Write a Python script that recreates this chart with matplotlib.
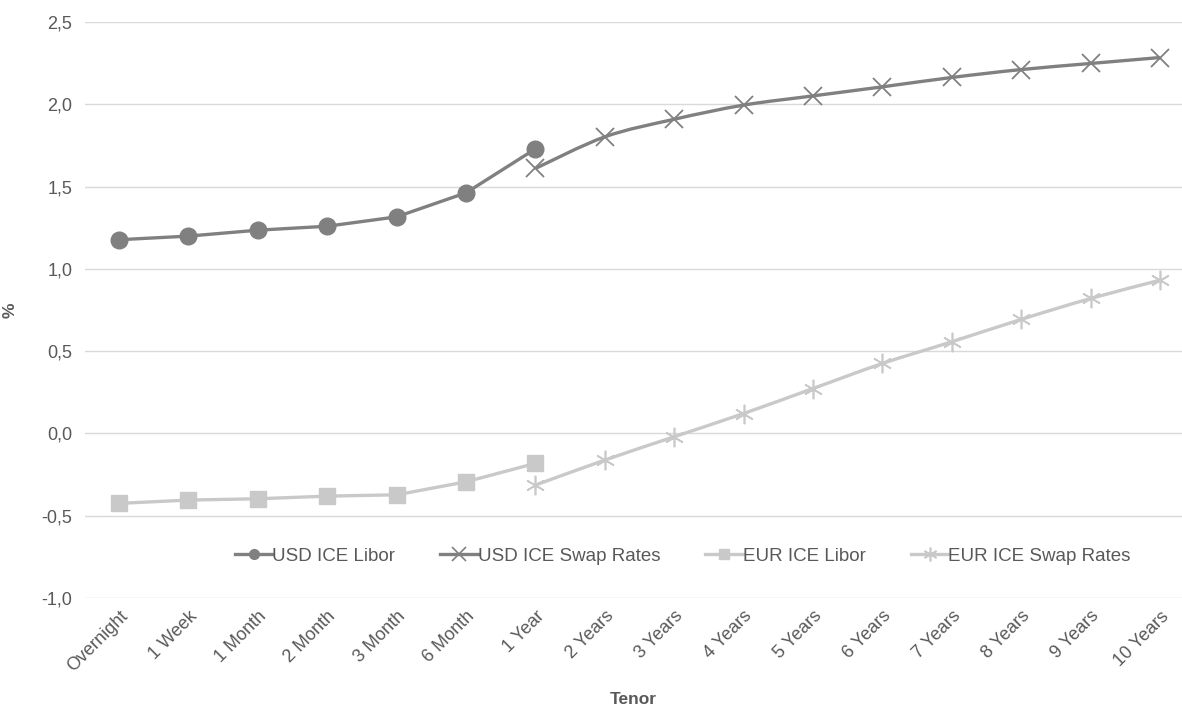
import numpy as np
import matplotlib
matplotlib.use("Agg")
import matplotlib.pyplot as plt
from matplotlib.path import Path
from matplotlib.patches import PathPatch
from matplotlib.ticker import FuncFormatter, MultipleLocator
from matplotlib.lines import Line2D

tenors = ["Overnight", "1 Week", "1 Month", "2 Month", "3 Month", "6 Month",
          "1 Year", "2 Years", "3 Years", "4 Years", "5 Years", "6 Years",
          "7 Years", "8 Years", "9 Years", "10 Years"]

usd_libor = [1.177, 1.199, 1.235, 1.259, 1.316, 1.462, 1.729]
usd_swap = [1.61, 1.802, 1.909, 1.995, 2.051, 2.106, 2.163, 2.211, 2.248, 2.284]
eur_libor = [-0.425, -0.405, -0.397, -0.381, -0.373, -0.294, -0.182]
eur_swap = [-0.314, -0.162, -0.02, 0.121, 0.273, 0.425, 0.557, 0.693, 0.82, 0.931]

libor_idx = np.arange(0, 7)
swap_idx = np.arange(6, 16)

usd_color = "#808080"
eur_color = "#c9c9c9"
text_color = "#595959"

plt.rcParams["font.family"] = ["Liberation Sans", "DejaVu Sans"]

fig = plt.figure(figsize=(11.82, 7.09), dpi=100)
W, H = 1182, 709
left, right, top, bottom = 85, 1182, 22, 598
ax = fig.add_axes([left / W, 1 - bottom / H, (right - left) / W, (bottom - top) / H])

step_px = 69.4
x_lo = -(119 - left) / step_px
x_hi = 15 + (right - 1160) / step_px
ax.set_xlim(x_lo, x_hi)
ax.set_ylim(-1.0, 2.5)


def smooth_path(xs, ys, tension=1 / 6):
    """Cubic Bezier curve through the points (Catmull-Rom style)."""
    pts = np.column_stack([np.asarray(xs, float), np.asarray(ys, float)])
    n = len(pts)
    verts = [pts[0]]
    codes = [Path.MOVETO]
    for i in range(n - 1):
        p0 = pts[i - 1] if i > 0 else pts[i]
        p1 = pts[i]
        p2 = pts[i + 1]
        p3 = pts[i + 2] if i + 2 < n else pts[i + 1]
        c1 = p1 + (p2 - p0) * tension
        c2 = p2 - (p3 - p1) * tension
        verts += [c1, c2, p2]
        codes += [Path.CURVE4] * 3
    return Path(verts, codes)


lw = 2.4
# USD
ax.plot(libor_idx, usd_libor, color=usd_color, lw=lw, marker="o", ms=12,
        zorder=4, solid_capstyle="round")
ax.add_patch(PathPatch(smooth_path(swap_idx, usd_swap), fill=False,
                       edgecolor=usd_color, lw=lw, zorder=3))
ax.plot(swap_idx, usd_swap, ls="none", marker="x", ms=13, mew=1.3,
        color=usd_color, zorder=4)
# EUR
ax.plot(libor_idx, eur_libor, color=eur_color, lw=lw, marker="s", ms=11,
        zorder=4, solid_capstyle="round")
ax.add_patch(PathPatch(smooth_path(swap_idx, eur_swap), fill=False,
                       edgecolor=eur_color, lw=lw, zorder=3))
ax.plot(swap_idx, eur_swap, ls="none", marker=(6, 2, 0), ms=14, mew=1.2,
        color=eur_color, zorder=4)

# axes styling
for s in ax.spines.values():
    s.set_visible(False)
ax.yaxis.set_major_locator(MultipleLocator(0.5))
ax.yaxis.set_major_formatter(FuncFormatter(lambda v, p: f"{v:.1f}".replace(".", ",")))
ax.grid(axis="y", color="#d9d9d9", lw=1.0, zorder=0)
ax.set_axisbelow(True)
ax.tick_params(axis="both", length=0, colors=text_color, labelsize=13)
ax.tick_params(axis="y", pad=9)
ax.set_xticks(range(len(tenors)))
ax.set_xticklabels(tenors, rotation=45, ha="right", va="top",
                   rotation_mode="anchor")
ax.tick_params(axis="x", pad=7)

ax.set_ylabel("%", color=text_color, fontsize=12.5, fontweight="bold")
ax.yaxis.set_label_coords((18 - left) / (right - left), (bottom - 310) / (bottom - top))
ax.set_xlabel("Tenor", color=text_color, fontsize=12.5, fontweight="bold", labelpad=12)

handles = [
    Line2D([], [], color=usd_color, lw=lw, marker="o", ms=7),
    Line2D([], [], color=usd_color, lw=lw, marker="x", ms=10, mew=1.2),
    Line2D([], [], color=eur_color, lw=lw, marker="s", ms=7),
    Line2D([], [], color=eur_color, lw=lw, marker=(6, 2, 0), ms=10, mew=1.2),
]
labels = ["USD ICE Libor", "USD ICE Swap Rates", "EUR ICE Libor", "EUR ICE Swap Rates"]
ax.legend(handles, labels, loc="center", bbox_to_anchor=(0.545, 0.073),
          ncol=4, frameon=False, fontsize=13.5, handlelength=2.0,
          handletextpad=0.0, columnspacing=2.4, labelcolor=text_color)

fig.savefig("out.png", dpi=100, facecolor="white")
